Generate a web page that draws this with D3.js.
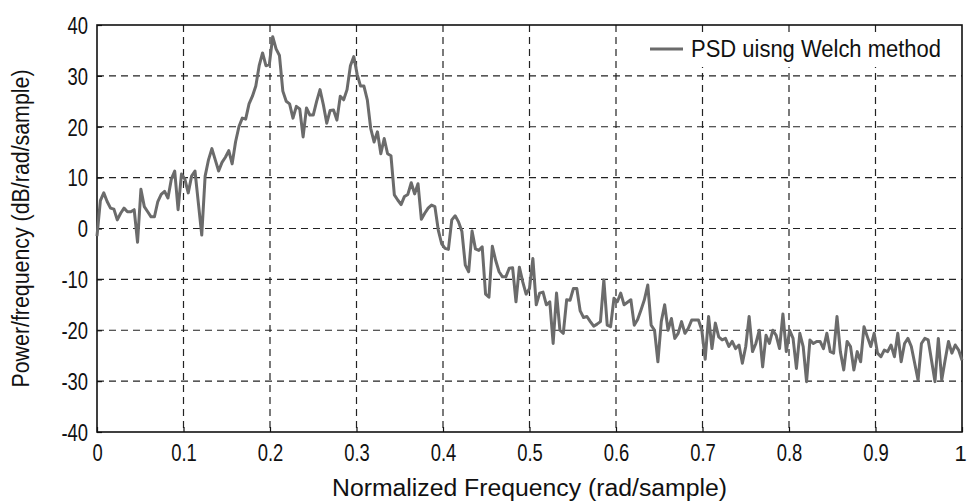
<!DOCTYPE html>
<html>
<head>
<meta charset="utf-8">
<script src="https://cdn.jsdelivr.net/npm/d3@7"></script>
<style>
  html, body { margin: 0; padding: 0; background: #fff; }
  svg { display: block; }
</style>
</head>
<body>
<svg id="chart" width="967" height="501"></svg>
<script>
const psd = [
  -1.5, 5.5, 7, 5.3, 4, 3.8, 1.7, 3, 4, 3.3,
  3.3, 3.7, -2.7, 7.7, 4.3, 3.3, 2.3, 2.3, 5.3, 6.7,
  7.3, 6, 9.7, 11.3, 3.7, 10.7, 9.7, 7, 10.3, 11.3,
  5, -1.3, 10.3, 13.5, 15.7, 13.5, 11.3, 13, 14, 15.3,
  12.7, 17, 20, 21.7, 21.5, 24.5, 26, 28, 32, 34.5,
  32, 32.2, 37.7, 35.3, 34, 27, 25, 24.5, 21.7, 24,
  23.5, 18, 23.7, 22.3, 22.3, 25, 27.3, 24.3, 20.7, 23.2,
  23.3, 21.3, 26, 25.3, 27.3, 32, 33.8, 30.3, 28, 28,
  25.3, 19.7, 17, 19, 14.7, 17.7, 14.7, 14.3, 6.6, 5.6,
  4.7, 6.3, 6.7, 9, 6.8, 8.8, 1.8, 3, 4, 4.6,
  4.3, -0.3, -3, -3.9, -4.1, 1.7, 2.5, 1.3, -0.6, -7.2,
  -8.5, -0.5, -4, -4.3, -3.6, -12.9, -13.5, -3.5, -6.3, -8.5,
  -9.5, -9.5, -7.8, -7.7, -14.4, -7.6, -10.5, -12.9, -11.8, -5.9,
  -15, -12.7, -12.5, -15, -14.4, -22.6, -12.7, -20, -20.6, -14,
  -14.1, -11.8, -11.8, -16.2, -17.5, -17.3, -18.3, -19.2, -18.8, -18.3,
  -10.1, -19, -19.3, -13.7, -14.4, -12.7, -15, -14.5, -14, -19,
  -17.9, -16, -14, -11.1, -19, -20, -26.2, -18.3, -15, -20,
  -17.7, -21.6, -20.6, -18.3, -20.6, -19.6, -18, -18, -18, -20,
  -25.7, -17.3, -23.6, -18.6, -21.3, -21.9, -21.6, -23.2, -22.2, -23.6,
  -22.9, -26.5, -23.2, -17.3, -24.2, -22.6, -20, -27.2, -21, -22.6,
  -20, -21, -23.6, -16.8, -24.2, -20, -21.6, -27.5, -20.6, -23.2,
  -30.1, -21.9, -22.6, -22.2, -22.2, -23.6, -20.6, -24.2, -24.5, -17.3,
  -24.2, -27.8, -22.2, -23.2, -27.8, -24.2, -26.2, -19.3, -21.3, -23.2,
  -20.6, -24.5, -25.2, -23.9, -24.2, -22.9, -25.2, -20.6, -26.2, -22.6,
  -21.6, -23.2, -26.5, -29.8, -22.6, -21.6, -21.9, -26, -30.1, -21.6,
  -29.8, -25.9, -22.2, -24.5, -22.9, -23.9, -25.9
];
const freq = psd.map((d, i) => i / (psd.length - 1));
const xTicks = [0, 0.1, 0.2, 0.3, 0.4, 0.5, 0.6, 0.7, 0.8, 0.9, 1];
const xTickLabels = ["0", "0.1", "0.2", "0.3", "0.4", "0.5", "0.6", "0.7", "0.8", "0.9", "1"];
const yTicks = [-40, -30, -20, -10, 0, 10, 20, 30, 40];
const yTickLabels = ["-40", "-30", "-20", "-10", "0", "10", "20", "30", "40"];
const xLabel = "Normalized Frequency (rad/sample)";
const yLabel = "Power/frequency (dB/rad/sample)";
const legendLabel = "PSD uisng Welch method";

const L = 97, R = 962, T = 25, B = 432;
const FONT = "'Liberation Sans', Arial, sans-serif";
const svg = d3.select("#chart");
const x = d3.scaleLinear().domain([0, 1]).range([L, R]);
const y = d3.scaleLinear().domain([-40, 40]).range([B, T]);

// grid
const grid = svg.append("g");
grid.selectAll("line.vx").data(xTicks.slice(1, -1)).join("line")
  .attr("x1", d => x(d)).attr("x2", d => x(d)).attr("y1", T).attr("y2", B)
  .attr("stroke", "#222").attr("stroke-width", 1.2).attr("stroke-dasharray", "7,5");
grid.selectAll("line.hy").data(yTicks.slice(1, -1)).join("line")
  .attr("x1", L).attr("x2", R).attr("y1", d => y(d)).attr("y2", d => y(d))
  .attr("stroke", "#222").attr("stroke-width", 1.2).attr("stroke-dasharray", "7,5");

// axes (tick labels)
const xAxis = svg.append("g").attr("transform", `translate(0,${B})`)
  .call(d3.axisBottom(x).tickValues(xTicks).tickFormat((d, i) => xTickLabels[i]).tickSize(-5).tickPadding(13));
const yAxis = svg.append("g").attr("transform", `translate(${L},0)`)
  .call(d3.axisLeft(y).tickValues(yTicks).tickFormat((d, i) => yTickLabels[i]).tickSize(-5).tickPadding(9));
[xAxis, yAxis].forEach(a => {
  a.select(".domain").remove();
  a.selectAll(".tick line").attr("stroke", "#111").attr("stroke-width", 1.2);
  a.selectAll(".tick text").attr("font-family", FONT).attr("font-size", 23).attr("fill", "#111")
    .each(function (d) {
      if (d === 1) return;
      const w = this.getComputedTextLength();
      d3.select(this).attr("textLength", w * 0.8).attr("lengthAdjust", "spacingAndGlyphs");
    });
});
xAxis.selectAll(".tick text").attr("dy", "0.71em");
yAxis.selectAll(".tick text").attr("dy", "0.36em");
// keep the last x label ("1") fully inside the picture
xAxis.selectAll(".tick").filter(d => d === 1).select("text")
  .attr("x", -2).attr("font-size", 22);

// frame
svg.append("rect").attr("x", L).attr("y", T).attr("width", R - L).attr("height", B - T)
  .attr("fill", "none").attr("stroke", "#111").attr("stroke-width", 1.6);

// data line
const line = d3.line().x((d, i) => x(freq[i])).y(d => y(d));
svg.append("path").datum(psd).attr("d", line)
  .attr("fill", "none").attr("stroke", "#6b6b6b").attr("stroke-width", 3)
  .attr("stroke-linejoin", "round");

// legend
const lg = svg.append("g");
lg.append("rect").attr("x", 619).attr("y", 32).attr("width", 340).attr("height", 35).attr("fill", "#fff");
lg.append("line").attr("x1", 650).attr("x2", 683).attr("y1", 49).attr("y2", 49)
  .attr("stroke", "#6b6b6b").attr("stroke-width", 3);
lg.append("text").attr("x", 691).attr("y", 57).text(legendLabel)
  .attr("font-family", FONT).attr("font-size", 23).attr("fill", "#111")
  .attr("textLength", 250).attr("lengthAdjust", "spacingAndGlyphs");

// axis labels
svg.append("text").attr("x", (L + R) / 2).attr("y", 496).attr("text-anchor", "middle")
  .text(xLabel).attr("font-family", FONT).attr("font-size", 23).attr("fill", "#111")
  .attr("textLength", 395).attr("lengthAdjust", "spacingAndGlyphs");
svg.append("text").attr("transform", `translate(29,${(T + B) / 2}) rotate(-90)`)
  .attr("text-anchor", "middle")
  .text(yLabel).attr("font-family", FONT).attr("font-size", 23).attr("fill", "#111")
  .attr("textLength", 318).attr("lengthAdjust", "spacingAndGlyphs");
</script>
</body>
</html>
